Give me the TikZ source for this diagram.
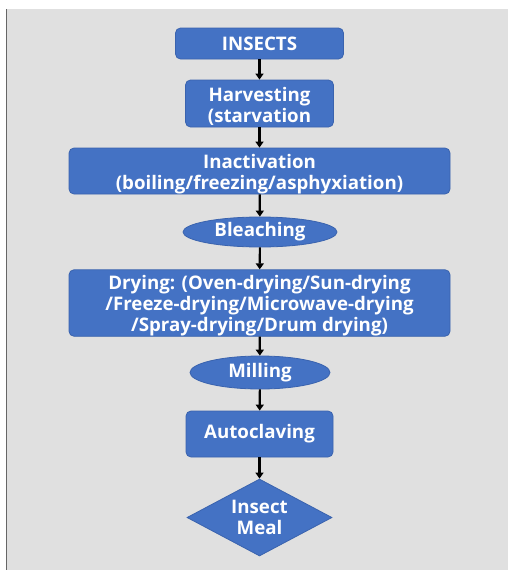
\documentclass[tikz,border=0pt]{standalone}
\usepackage{fontspec}
\setmainfont{Open Sans}
\usetikzlibrary{shapes.geometric,arrows.meta}
\definecolor{panel}{HTML}{E0E0E0}
\definecolor{boxblue}{HTML}{4472C4}
\definecolor{boxedge}{HTML}{3A63AE}
\begin{document}
\begin{tikzpicture}[x=1pt,y=-1pt,
  every node/.style={font=\bfseries\fontsize{18.7}{21}\selectfont, text=white, inner sep=0pt},
  rbox/.style={draw=boxedge, line width=0.8pt, fill=boxblue, rounded corners=5pt, rectangle, align=center},
  ebox/.style={draw=boxedge, line width=0.8pt, fill=boxblue, ellipse},
  dbox/.style={draw=boxedge, line width=0.8pt, fill=boxblue, diamond, align=center},
  conn/.style={draw=black, line width=2.2pt, -{Triangle[width=8pt,length=6pt]}}]
\useasboundingbox (0,0) rectangle (508,570);
\fill[white] (0,0) rectangle (508,570);
\fill[panel] (7,9) rectangle (508,570);
\draw[gray!80!black, line width=1.2pt] (6.6,9) -- (6.6,570);
\node[rbox, minimum width=168pt, minimum height=31pt] (insects) at (259.5,43.5) {INSECTS};
\node[rbox, minimum width=148pt, minimum height=47pt] (harv) at (259.5,103.5) {\rule{0pt}{20pt}Harvesting\\(starvation};
\node[rbox, minimum width=381pt, minimum height=46pt] (inact) at (259.5,171) {\rule{0pt}{20pt}Inactivation\\(boiling/freezing/asphyxiation)};
\node[ebox, minimum width=154pt, minimum height=30pt] (bleach) at (260,232) {Bleaching};
\node[rbox, minimum width=381pt, minimum height=64pt] (dry) at (259.5,303) {\rule{0pt}{20pt}Drying: (Oven-drying/Sun-drying\\/Freeze-drying/Microwave-drying\\/Spray-drying/Drum drying)};
\node[ebox, minimum width=140pt, minimum height=33pt] (mill) at (260,372.5) {Milling};
\node[rbox, minimum width=147pt, minimum height=46pt] (auto) at (259.5,434) {Autoclaving};
\node[dbox, minimum width=145pt, minimum height=77pt, aspect=1.88] (meal) at (259.5,517.5) {Insect\\Meal};
\draw[conn] (insects) -- (harv);
\draw[conn] (harv) -- (inact);
\draw[conn] (inact) -- (bleach);
\draw[conn] (bleach) -- (dry);
\draw[conn] (dry) -- (mill);
\draw[conn] (mill) -- (auto);
\draw[conn] (auto) -- (meal);
\end{tikzpicture}
\end{document}
